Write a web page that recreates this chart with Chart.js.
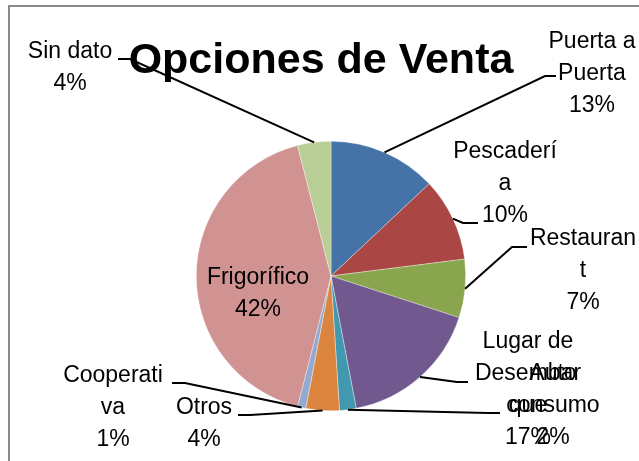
<!DOCTYPE html>
<html>
<head>
<meta charset="utf-8">
<script src="https://cdn.jsdelivr.net/npm/chart.js@4"></script>
<style>
  body { margin: 0; background: #fff; }
  #wrap { width: 639px; height: 461px; position: relative; }
</style>
</head>
<body>
<div id="wrap"><canvas id="ventaChart"></canvas></div>
<script>
// datos del grafico
const categories = ['Puerta a Puerta', 'Pescadería', 'Restaurant', 'Lugar de Desembarque', 'Auto consumo', 'Otros', 'Cooperativa', 'Frigorífico', 'Sin dato'];
const values = [13, 10, 7, 17, 2, 4, 1, 42, 4];
const sliceColors = ['#4572A7', '#AA4643', '#89A54E', '#71588F', '#4198AF', '#DB843D', '#93A9CF', '#D19392', '#B9CD96'];
// como Excel corta las etiquetas
const labelLines = [
  ['Puerta a', 'Puerta'],
  ['Pescaderí', 'a'],
  ['Restauran', 't'],
  ['Lugar de', 'Desembar', 'que'],
  ['Auto', 'consumo'],
  ['Otros'],
  ['Cooperati', 'va'],
  ['Frigorífico'],
  ['Sin dato']
];
const chartTitle = 'Opciones de Venta';

// posicion de cada etiqueta (centro x, primera linea y) y codo de la linea guia
const labelLayout = [
  { x: 592, y: 42, elbow: [545, 76], end: [556, 76] },
  { x: 505, y: 152, elbow: [463, 223], end: [478, 223] },
  { x: 583, y: 239, elbow: [512, 247], end: [527, 247] },
  { x: 528, y: 342, elbow: [457, 382], end: [468, 382] },
  { x: 553, y: 374, elbow: [488, 413], end: [500, 413] },
  { x: 204, y: 408, elbow: [250, 415], end: [238, 415] },
  { x: 113, y: 376, elbow: [185, 383], end: [172, 383] },
  { x: 258, y: 278, elbow: null, end: null },
  { x: 70, y: 52, elbow: [130, 59], end: [118, 59] }
];
const LINE_H = 32;

const total = values.reduce((a, b) => a + b, 0);

const labelPlugin = {
  id: 'excelLabels',
  afterDraw(chart) {
    const ctx = chart.ctx;
    const meta = chart.getDatasetMeta(0);
    ctx.save();

    // borde del grafico
    ctx.strokeStyle = '#8c8c8c';
    ctx.lineWidth = 2;
    ctx.strokeRect(9, 6, 700, 500);

    // titulo
    ctx.fillStyle = '#000';
    ctx.font = 'bold 43px "Liberation Sans", Arial, sans-serif';
    ctx.textAlign = 'center';
    ctx.textBaseline = 'alphabetic';
    ctx.fillText(chartTitle, 321, 73);

    ctx.font = '23px "Liberation Sans", Arial, sans-serif';
    ctx.textBaseline = 'middle';
    meta.data.forEach((arc, i) => {
      const p = arc.getProps(['x', 'y', 'startAngle', 'endAngle', 'outerRadius'], true);
      const mid = (p.startAngle + p.endAngle) / 2;
      const ax = p.x + Math.cos(mid) * p.outerRadius;
      const ay = p.y + Math.sin(mid) * p.outerRadius;
      const lay = labelLayout[i];
      if (lay.elbow) {
        ctx.strokeStyle = '#000';
        ctx.lineWidth = 2;
        ctx.beginPath();
        ctx.moveTo(ax, ay);
        ctx.lineTo(lay.elbow[0], lay.elbow[1]);
        ctx.lineTo(lay.end[0], lay.end[1]);
        ctx.stroke();
      }
      const pct = Math.round(values[i] / total * 100) + '%';
      const lines = labelLines[i].concat([pct]);
      ctx.fillStyle = '#000';
      lines.forEach((t, k) => ctx.fillText(t, lay.x, lay.y + k * LINE_H));
    });
    ctx.restore();
  }
};

new Chart(document.getElementById('ventaChart'), {
  type: 'pie',
  data: {
    labels: categories,
    datasets: [{
      data: values,
      backgroundColor: sliceColors,
      borderColor: 'rgba(255,255,255,0.6)',
      borderWidth: 0.6
    }]
  },
  options: {
    responsive: true,
    maintainAspectRatio: false,
    animation: false,
    layout: { padding: { left: 23, right: 0, top: 141, bottom: 50 } },
    plugins: {
      legend: { display: false },
      tooltip: { enabled: false },
      title: { display: false }
    }
  },
  plugins: [labelPlugin]
});
</script>
</body>
</html>
